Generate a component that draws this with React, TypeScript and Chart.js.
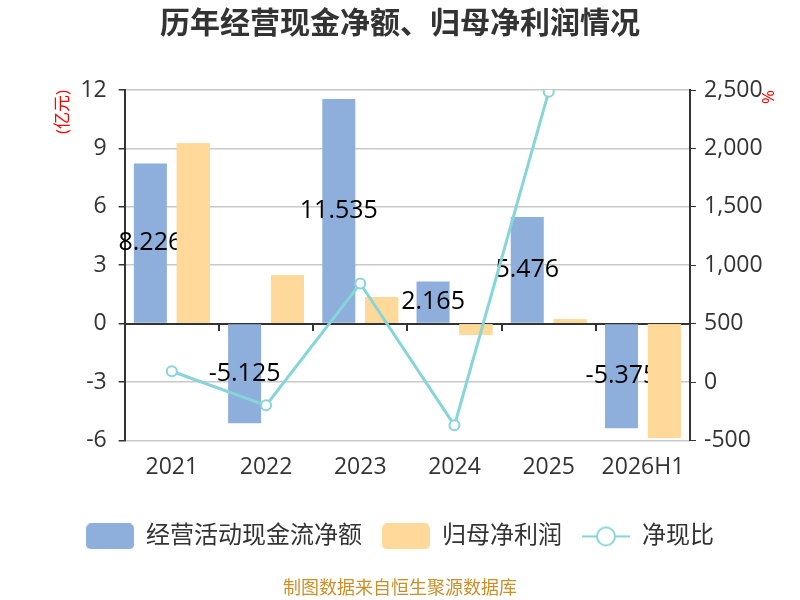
import { useEffect, useRef } from 'react';
import { Chart, registerables } from 'chart.js';
import type { Plugin } from 'chart.js';

Chart.register(...registerables);

// Data
const categories = ['2021', '2022', '2023', '2024', '2025', '2026H1'];
const cashFlow = [8.226, -5.125, 11.535, 2.165, 5.476, -5.375]; // 经营活动现金流净额 (亿元)
const netProfit = [9.26, 2.48, 1.37, -0.58, 0.22, -5.88]; // 归母净利润 (亿元)
const cashRatio = [92, -200, 843, -371, 2486, null]; // 净现比 (%)

const leftTicks = { min: -6, max: 12, step: 3 };
const rightTicks = { min: -500, max: 2500, step: 500 };

const BLUE = '#8eaedb';
const ORANGE = '#ffd999';
const TEAL = '#86d5d8';
const FONT = '"Open Sans", "Noto Sans CJK SC", sans-serif';

// legend swatches drawn as small canvases
function makeBox(color: string) {
  const c = document.createElement('canvas');
  c.width = 48;
  c.height = 26;
  const ctx = c.getContext('2d')!;
  ctx.fillStyle = color;
  ctx.beginPath();
  ctx.roundRect(0, 0, 48, 26, 5);
  ctx.fill();
  return c;
}

function makeLineMark(color: string) {
  const c = document.createElement('canvas');
  c.width = 48;
  c.height = 26;
  const ctx = c.getContext('2d')!;
  ctx.strokeStyle = color;
  ctx.lineWidth = 2;
  ctx.beginPath();
  ctx.moveTo(0, 13);
  ctx.lineTo(48, 13);
  ctx.stroke();
  ctx.fillStyle = '#fff';
  ctx.beginPath();
  ctx.arc(24, 13, 9, 0, Math.PI * 2);
  ctx.fill();
  ctx.stroke();
  return c;
}

// value labels in the middle of the cash-flow bars; the profit bars go back on top
const barLabels: Plugin<'bar'> = {
  id: 'barLabels',
  afterDatasetDraw(chart, args) {
    if (args.index !== 0) return;
    const { ctx } = chart;
    ctx.save();
    ctx.font = `25px ${FONT}`;
    ctx.fillStyle = '#000';
    ctx.textAlign = 'center';
    ctx.textBaseline = 'middle';
    args.meta.data.forEach((el, i) => {
      const { x, y, base } = el.getProps(['x', 'y', 'base'], true) as any;
      ctx.fillText(String(cashFlow[i]), x, (y + base) / 2);
    });
    ctx.restore();
    chart.getDatasetMeta(1).data.forEach((el) => el.draw(ctx));
  },
};

export default function App() {
  const canvasRef = useRef<HTMLCanvasElement>(null);

  useEffect(() => {
    if (!canvasRef.current) return;
    const swatches = [makeBox(BLUE), makeBox(ORANGE), makeLineMark(TEAL)];
    const tickFont = { size: 23, family: FONT };

    const chart = new Chart(canvasRef.current, {
      type: 'bar',
      data: {
        labels: categories,
        datasets: [
          {
            label: '经营活动现金流净额',
            data: cashFlow,
            backgroundColor: BLUE,
            yAxisID: 'y',
            categoryPercentage: 0.91,
            barPercentage: 0.77,
          },
          {
            label: '归母净利润',
            data: netProfit,
            backgroundColor: ORANGE,
            yAxisID: 'y',
            categoryPercentage: 0.91,
            barPercentage: 0.77,
          },
          {
            type: 'line',
            label: '净现比',
            data: cashRatio,
            borderColor: TEAL,
            borderWidth: 3,
            pointRadius: 5,
            pointBorderWidth: 2,
            pointBackgroundColor: '#fff',
            pointBorderColor: TEAL,
            yAxisID: 'y1',
            order: -1,
          } as any,
        ],
      },
      options: {
        responsive: true,
        maintainAspectRatio: false,
        animation: false,
        scales: {
          x: {
            grid: { display: false, drawTicks: false },
            border: { display: false },
            ticks: { color: '#333', font: tickFont, padding: 13 },
            afterFit: (scale) => {
              scale.height = 64;
            },
          },
          x2: {
            type: 'category',
            labels: categories,
            position: { y: 0 },
            offset: true,
            grid: { offset: true, drawOnChartArea: false, tickLength: 6, tickColor: '#333', lineWidth: 2 },
            border: { color: '#333', width: 2 },
            ticks: { display: false },
          },
          y: {
            position: 'left',
            min: leftTicks.min,
            max: leftTicks.max,
            ticks: { stepSize: leftTicks.step, color: '#333', font: tickFont, padding: 12 },
            grid: { color: '#c8c8c8', lineWidth: 1.5, tickLength: 6, tickColor: '#333' },
            border: { color: '#333', width: 2 },
            title: {
              display: true,
              text: '(亿元)',
              align: 'end',
              color: '#f00',
              font: { size: 17, family: FONT },
              padding: { top: 53, bottom: -5 },
            },
          },
          y1: {
            position: 'right',
            min: rightTicks.min,
            max: rightTicks.max,
            ticks: { stepSize: rightTicks.step, color: '#333', font: tickFont, padding: 8 },
            grid: { drawOnChartArea: false, tickLength: 6, tickColor: '#333' },
            border: { color: '#333', width: 2 },
            title: {
              display: true,
              text: '%',
              align: 'end',
              color: '#f00',
              font: { size: 17, family: FONT },
              padding: { top: 23, bottom: -14 },
            },
          },
        },
        plugins: {
          title: {
            display: true,
            text: '历年经营现金净额、归母净利润情况',
            color: '#333',
            font: { size: 30, weight: 'bold', family: FONT },
            padding: { top: 6, bottom: 48 },
          },
          subtitle: {
            display: true,
            position: 'bottom',
            text: '制图数据来自恒生聚源数据库',
            color: '#c9902a',
            font: { size: 18, family: FONT },
            padding: { top: 20, bottom: 0 },
          },
          legend: {
            position: 'bottom',
            labels: {
              usePointStyle: true,
              pointStyleWidth: 48,
              color: '#333',
              font: { size: 24, family: FONT },
              padding: 20,
              sort: (a, b) => (a.datasetIndex ?? 0) - (b.datasetIndex ?? 0),
              generateLabels: (c) => {
                const items = Chart.defaults.plugins.legend.labels.generateLabels(c);
                items.forEach((it) => {
                  it.pointStyle = swatches[it.datasetIndex ?? 0];
                });
                return items;
              },
            },
          },
          tooltip: { enabled: false },
        },
      },
      plugins: [barLabels as any],
    });

    return () => chart.destroy();
  }, []);

  return (
    <div style={{ position: 'fixed', left: 0, top: 0, width: 800, height: 600, background: '#fff' }}>
      <canvas ref={canvasRef} />
    </div>
  );
}
